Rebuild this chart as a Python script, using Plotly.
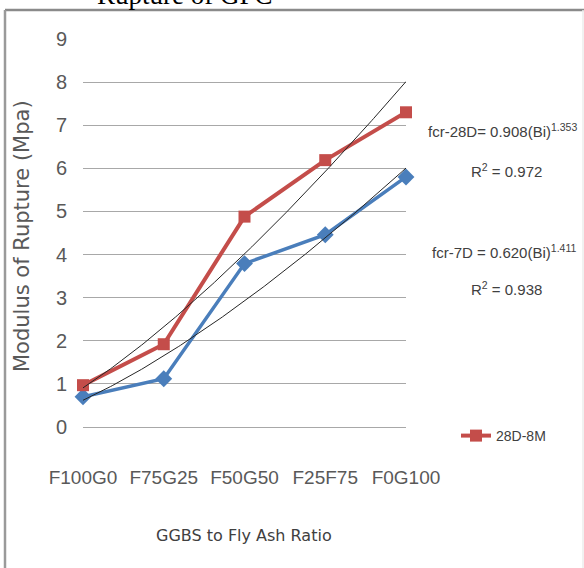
import numpy as np
import plotly.graph_objects as go

# Mix designations (fly ash : GGBS)
categories = ["F100G0", "F75G25", "F50G50", "F25F75", "F0G100"]

# Modulus of rupture (MPa)
mor_28d_8m = [0.97, 1.92, 4.88, 6.19, 7.30]
mor_7d = [0.70, 1.12, 3.79, 4.46, 5.80]

# Power-law trendlines fcr = a * (Bi)^b, Bi = 1..5
fit_28d = (0.908, 1.353, 0.972)
fit_7d = (0.620, 1.411, 0.938)

y_ticks = list(range(0, 10))

W, H = 584, 568
PX_L, PX_R, PX_T, PX_B = 83, 406, 39, 427


def xp(px):
    return (px - PX_L) / (PX_R - PX_L)


def yp(py):
    return (PX_B - py) / (PX_B - PX_T)


SANS = "DejaVu Sans, sans-serif"
ARIAL = "Liberation Sans, Arial, sans-serif"
RED = "#c44d4a"
BLUE = "#4a7ebb"

idx = list(range(len(categories)))
bi = np.linspace(1, len(categories), 200)

fig = go.Figure()

fig.add_trace(go.Scatter(
    x=idx, y=mor_7d, mode="lines+markers", name="7D",
    line=dict(color=BLUE, width=3.5),
    marker=dict(symbol="diamond", size=13, color=BLUE),
    showlegend=False, cliponaxis=False,
))
fig.add_trace(go.Scatter(
    x=idx, y=mor_28d_8m, mode="lines+markers", name="28D-8M",
    line=dict(color=RED, width=4),
    marker=dict(symbol="square", size=12, color=RED),
    showlegend=True, cliponaxis=False,
))
for a, b, _ in (fit_28d, fit_7d):
    fig.add_trace(go.Scatter(
        x=bi - 1, y=a * bi ** b, mode="lines",
        line=dict(color="#262626", width=1),
        showlegend=False, hoverinfo="skip", cliponaxis=False,
    ))

annotations = [
    dict(text="fcr-28D= %.3f(Bi)<sup>%.3f</sup>" % fit_28d[:2],
         x=xp(426), y=yp(130), xanchor="left", yanchor="middle"),
    dict(text="R<sup>2</sup> = %.3f" % fit_28d[2],
         x=xp(506), y=yp(170), xanchor="center", yanchor="middle"),
    dict(text="fcr-7D = %.3f(Bi)<sup>%.3f</sup>" % fit_7d[:2],
         x=xp(430), y=yp(251), xanchor="left", yanchor="middle"),
    dict(text="R<sup>2</sup> = %.3f" % fit_7d[2],
         x=xp(506), y=yp(288), xanchor="center", yanchor="middle"),
]
for ann in annotations:
    ann.update(xref="paper", yref="paper", showarrow=False,
               font=dict(family=ARIAL, size=15, color="#404040"))

annotations += [
    dict(text="GGBS to Fly Ash Ratio", x=xp(244), y=yp(535),
         xref="paper", yref="paper", showarrow=False,
         xanchor="center", yanchor="middle",
         font=dict(family=SANS, size=16, color="#404040")),
    dict(text="Modulus of Rupture (Mpa)", x=xp(22), y=yp(236),
         xref="paper", yref="paper", showarrow=False, textangle=-90,
         xanchor="center", yanchor="middle",
         font=dict(family=SANS, size=21, color="#595959")),
    dict(text="Rupture of GPC", x=xp(185), y=yp(-5),
         xref="paper", yref="paper", showarrow=False,
         xanchor="center", yanchor="middle",
         font=dict(family="Liberation Serif, Times New Roman, serif", size=27, color="#000000")),
]

# Chart frame
shapes = [
    dict(type="line", xref="paper", yref="paper",
         x0=xp(5), x1=xp(584), y0=yp(10), y1=yp(10),
         line=dict(color="#8a8a8a", width=2.5)),
    dict(type="line", xref="paper", yref="paper",
         x0=xp(5), x1=xp(5), y0=yp(10), y1=yp(570),
         line=dict(color="#9a9a9a", width=2.5)),
    dict(type="line", xref="paper", yref="paper",
         x0=xp(583), x1=xp(583), y0=yp(10), y1=yp(570),
         line=dict(color="#ececec", width=1.5)),
]

fig.update_layout(
    width=W, height=H,
    margin=dict(l=PX_L, r=W - PX_R, t=PX_T, b=H - PX_B, pad=0),
    paper_bgcolor="white", plot_bgcolor="white",
    showlegend=True,
    legend=dict(x=xp(456), y=yp(436), xanchor="left", yanchor="middle",
                font=dict(family=ARIAL, size=14, color="#404040"),
                bgcolor="rgba(0,0,0,0)", itemwidth=30),
    annotations=annotations,
    shapes=shapes,
    xaxis=dict(range=[0, len(categories) - 1], tickvals=idx, ticktext=categories,
               showgrid=False, zeroline=False, showline=False, ticks="",
               ticklabelstandoff=37, automargin=False,
               tickfont=dict(family=ARIAL, size=19, color="#595959")),
    yaxis=dict(range=[0, 9], tickvals=y_ticks, showgrid=True,
               gridcolor="#a8a8a8", gridwidth=1.2,
               zeroline=True, zerolinecolor="#a8a8a8", zerolinewidth=1.2,
               showline=False, ticks="", ticklabelstandoff=15, automargin=False,
               tickfont=dict(family=ARIAL, size=20, color="#595959")),
)

fig.write_html("out.html")
